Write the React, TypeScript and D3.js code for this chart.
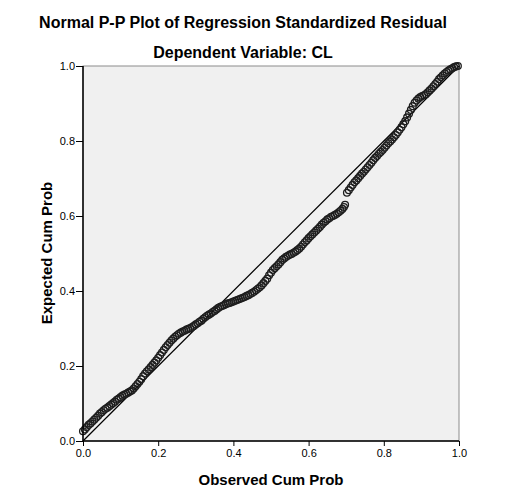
import * as d3 from 'd3';
import React, { useRef, useEffect } from 'react';

const titleText = 'Normal P-P Plot of Regression Standardized Residual';
const subtitleText = 'Dependent Variable: CL';
const xLabel = 'Observed Cum Prob';
const yLabel = 'Expected Cum Prob';
const tickValues = [0, 0.2, 0.4, 0.6, 0.8, 1.0];

// observed cumulative probability of each residual
const observedCum = [
    0.000, 0.005, 0.010, 0.015, 0.020, 0.025, 0.030, 0.035, 0.040, 0.045,
    0.050, 0.055, 0.060, 0.065, 0.070, 0.075, 0.080, 0.085, 0.090, 0.095,
    0.100, 0.105, 0.110, 0.115, 0.120, 0.125, 0.130, 0.135, 0.140, 0.145,
    0.150, 0.155, 0.160, 0.165, 0.170, 0.175, 0.180, 0.185, 0.190, 0.195,
    0.200, 0.205, 0.210, 0.215, 0.220, 0.225, 0.230, 0.235, 0.240, 0.245,
    0.250, 0.255, 0.260, 0.265, 0.270, 0.275, 0.280, 0.285, 0.290, 0.295,
    0.300, 0.305, 0.310, 0.315, 0.320, 0.325, 0.330, 0.335, 0.340, 0.345,
    0.350, 0.355, 0.360, 0.365, 0.370, 0.375, 0.380, 0.385, 0.390, 0.395,
    0.400, 0.405, 0.410, 0.415, 0.420, 0.425, 0.430, 0.435, 0.440, 0.445,
    0.450, 0.455, 0.460, 0.465, 0.470, 0.475, 0.480, 0.485, 0.490, 0.495,
    0.500, 0.505, 0.510, 0.515, 0.520, 0.525, 0.530, 0.535, 0.540, 0.545,
    0.550, 0.555, 0.560, 0.565, 0.570, 0.575, 0.580, 0.585, 0.590, 0.595,
    0.600, 0.605, 0.610, 0.615, 0.620, 0.625, 0.630, 0.635, 0.640, 0.645,
    0.650, 0.655, 0.660, 0.665, 0.670, 0.675, 0.680, 0.685, 0.690, 0.694,
    0.697, 0.702, 0.707, 0.712, 0.717, 0.722, 0.727, 0.732, 0.737, 0.742,
    0.747, 0.752, 0.757, 0.762, 0.767, 0.772, 0.777, 0.782, 0.787, 0.792,
    0.797, 0.802, 0.807, 0.812, 0.817, 0.822, 0.827, 0.832, 0.837, 0.842,
    0.847, 0.852, 0.857, 0.862, 0.867, 0.872, 0.877, 0.882, 0.887, 0.892,
    0.897, 0.902, 0.907, 0.912, 0.917, 0.922, 0.927, 0.932, 0.937, 0.942,
    0.947, 0.952, 0.957, 0.962, 0.967, 0.972, 0.977, 0.982, 0.987, 0.992,
    0.997,
];

// expected cumulative probability under normality
const expectedCum = [
    0.026, 0.031, 0.037, 0.043, 0.047, 0.052, 0.057, 0.062, 0.067, 0.073,
    0.077, 0.082, 0.086, 0.089, 0.093, 0.097, 0.101, 0.105, 0.110, 0.113,
    0.117, 0.121, 0.124, 0.126, 0.129, 0.132, 0.135, 0.140, 0.146, 0.152,
    0.158, 0.165, 0.173, 0.180, 0.186, 0.191, 0.197, 0.203, 0.209, 0.215,
    0.222, 0.229, 0.236, 0.243, 0.250, 0.256, 0.262, 0.268, 0.273, 0.278,
    0.282, 0.286, 0.289, 0.292, 0.294, 0.297, 0.299, 0.301, 0.304, 0.307,
    0.311, 0.314, 0.318, 0.321, 0.326, 0.330, 0.334, 0.337, 0.340, 0.344,
    0.347, 0.351, 0.355, 0.358, 0.360, 0.362, 0.365, 0.367, 0.368, 0.370,
    0.372, 0.374, 0.376, 0.378, 0.380, 0.382, 0.384, 0.387, 0.389, 0.392,
    0.395, 0.398, 0.402, 0.406, 0.410, 0.415, 0.421, 0.427, 0.433, 0.442,
    0.449, 0.456, 0.461, 0.466, 0.471, 0.477, 0.483, 0.487, 0.491, 0.494,
    0.497, 0.499, 0.502, 0.505, 0.509, 0.513, 0.518, 0.524, 0.530, 0.535,
    0.541, 0.546, 0.551, 0.556, 0.561, 0.566, 0.571, 0.577, 0.582, 0.586,
    0.591, 0.594, 0.598, 0.600, 0.603, 0.606, 0.610, 0.614, 0.619, 0.624,
    0.630, 0.662, 0.669, 0.676, 0.683, 0.690, 0.695, 0.701, 0.707, 0.713,
    0.718, 0.724, 0.730, 0.736, 0.742, 0.749, 0.755, 0.760, 0.766, 0.771,
    0.776, 0.782, 0.788, 0.794, 0.799, 0.804, 0.810, 0.816, 0.823, 0.830,
    0.837, 0.845, 0.853, 0.863, 0.873, 0.883, 0.893, 0.902, 0.908, 0.913,
    0.917, 0.920, 0.922, 0.925, 0.930, 0.935, 0.940, 0.946, 0.952, 0.958,
    0.965, 0.970, 0.975, 0.980, 0.984, 0.988, 0.991, 0.994, 0.997, 0.999,
    1.000,
];

const App: React.FC = () => {
    const svgRef = useRef<SVGSVGElement | null>(null);
    const width = 513;
    const height = 501;

    useEffect(() => {
        const l = 83;
        const r = 459;
        const t = 66;
        const b = 441;
        const font = 'Arial, "Liberation Sans", sans-serif';

        const svg = d3.select(svgRef.current);
        svg.selectAll('*').remove();

        svg.append('rect')
            .attr('width', width)
            .attr('height', height)
            .attr('fill', '#FFFFFF');

        const xScale = d3.scaleLinear().domain([0, 1]).range([l, r]);
        const yScale = d3.scaleLinear().domain([0, 1]).range([b, t]);

        // plot background and frame
        svg.append('rect')
            .attr('x', l)
            .attr('y', t)
            .attr('width', r - l)
            .attr('height', b - t)
            .attr('fill', '#F0F0F0')
            .attr('stroke', '#8C8C8C')
            .attr('stroke-width', 1);

        // reference diagonal
        svg.append('line')
            .attr('x1', xScale(0))
            .attr('y1', yScale(0))
            .attr('x2', xScale(1))
            .attr('y2', yScale(1))
            .attr('stroke', '#000')
            .attr('stroke-width', 1.2);

        // points
        const pts = observedCum.map((o, i) => ({ o, e: expectedCum[i] }));
        svg.append('g')
            .selectAll('circle')
            .data(pts)
            .enter()
            .append('circle')
            .attr('cx', d => xScale(d.o))
            .attr('cy', d => yScale(d.e))
            .attr('r', 3.4)
            .attr('fill', 'none')
            .attr('stroke', '#1E1E1E')
            .attr('stroke-width', 1.3);

        // axes
        const fmt = d3.format('.1f');
        const xAxis = svg.append('g')
            .attr('transform', `translate(0, ${b})`)
            .call(d3.axisBottom(xScale).tickValues(tickValues).tickSize(5).tickPadding(3).tickFormat(d => fmt(d as number)));
        const yAxis = svg.append('g')
            .attr('transform', `translate(${l}, 0)`)
            .call(d3.axisLeft(yScale).tickValues(tickValues).tickSize(7).tickPadding(1).tickFormat(d => fmt(d as number)));

        [xAxis, yAxis].forEach(ax => {
            ax.select('.domain').attr('stroke', '#000').attr('stroke-width', 1.5);
            ax.selectAll('.tick line').attr('stroke', '#000');
            ax.selectAll('.tick text')
                .attr('font-family', font)
                .attr('font-size', 11)
                .attr('fill', '#000');
        });
        xAxis.select('.domain').attr('d', `M${l},0H${r}`);
        yAxis.select('.domain').attr('d', `M0,${t}V${b}`);

        // titles
        svg.append('text')
            .attr('x', 243)
            .attr('y', 28)
            .attr('text-anchor', 'middle')
            .attr('font-family', font)
            .attr('font-weight', 'bold')
            .attr('font-size', 16)
            .text(titleText);

        svg.append('text')
            .attr('x', 243)
            .attr('y', 58)
            .attr('text-anchor', 'middle')
            .attr('font-family', font)
            .attr('font-weight', 'bold')
            .attr('font-size', 16)
            .text(subtitleText);

        svg.append('text')
            .attr('x', 271)
            .attr('y', 485)
            .attr('text-anchor', 'middle')
            .attr('font-family', font)
            .attr('font-weight', 'bold')
            .attr('font-size', 15)
            .text(xLabel);

        svg.append('text')
            .attr('transform', `translate(52, 253) rotate(-90)`)
            .attr('text-anchor', 'middle')
            .attr('font-family', font)
            .attr('font-weight', 'bold')
            .attr('font-size', 15)
            .text(yLabel);
    }, []);

    return (
        <svg
            ref={svgRef}
            width={width}
            height={height}
            style={{ position: 'absolute', left: 0, top: 0 }}
        ></svg>
    );
};

export default App;
